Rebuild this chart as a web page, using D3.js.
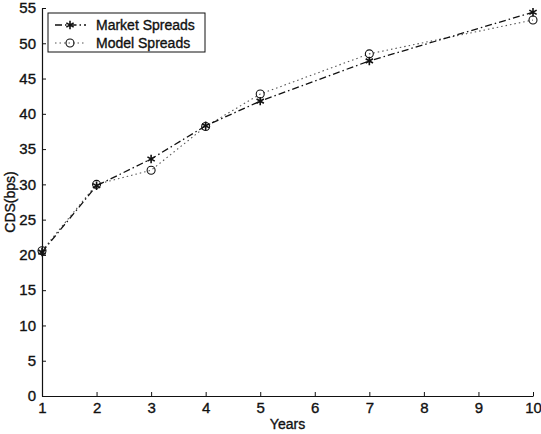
<!DOCTYPE html>
<html>
<head>
<meta charset="utf-8">
<script src="https://cdn.jsdelivr.net/npm/d3@7"></script>
<style>
  body { margin: 0; background: #fff; }
  svg { display: block; font-family: "Liberation Sans", Arial, sans-serif; }
  svg text { stroke: #111; stroke-width: 0.35px; }
</style>
</head>
<body>
<svg id="chart" width="541" height="434"></svg>
<script>
// Maturities (years) and CDS spreads in basis points
const years = [1, 2, 3, 4, 5, 7, 10];
const marketSpreads = [20.4, 29.8, 33.6, 38.3, 41.8, 47.5, 54.4];
const modelSpreads = [20.6, 30.0, 32.0, 38.2, 42.8, 48.5, 53.3];
const xTicks = [1, 2, 3, 4, 5, 6, 7, 8, 9, 10];
const yTicks = [0, 5, 10, 15, 20, 25, 30, 35, 40, 45, 50, 55];
const seriesNames = ["Market Spreads", "Model Spreads"];

const svg = d3.select("#chart");
const plotL = 42, plotR = 533, plotT = 8, plotB = 396;

const x = d3.scaleLinear().domain([1, 10]).range([plotL, plotR]);
const y = d3.scaleLinear().domain([0, 55]).range([plotB, plotT]);

// Axes: ticks point inward
const xAxis = d3.axisBottom(x).tickValues(xTicks).tickSizeInner(-4).tickSizeOuter(0).tickPadding(8);
const yAxis = d3.axisLeft(y).tickValues(yTicks).tickSizeInner(-4).tickSizeOuter(0).tickPadding(6);

const gx = svg.append("g").attr("transform", `translate(0,${plotB})`).call(xAxis);
const gy = svg.append("g").attr("transform", `translate(${plotL},0)`).call(yAxis);
[gx, gy].forEach(g => {
  g.selectAll("path").attr("stroke", "#111").attr("stroke-width", 1.2);
  g.selectAll("line").attr("stroke", "#111").attr("stroke-width", 1);
  g.selectAll("text").attr("fill", "#111").style("font-size", "15px").style("font-family", "Liberation Sans, Arial, sans-serif");
});
gx.selectAll("text").attr("dy", "0.6em");

// Axis titles
svg.append("text").attr("x", (plotL + plotR) / 2).attr("y", 429)
  .attr("text-anchor", "middle").style("font-size", "14px").attr("fill", "#111").text("Years");
svg.append("text").attr("transform", `translate(15,${(plotT + plotB) / 2}) rotate(-90)`)
  .attr("text-anchor", "middle").style("font-size", "14px").attr("fill", "#111").text("CDS(bps)");

const line = d3.line().x(d => x(d[0])).y(d => y(d[1]));
const marketPts = years.map((t, i) => [t, marketSpreads[i]]);
const modelPts = years.map((t, i) => [t, modelSpreads[i]]);

// Model spreads: dotted line with open circles
svg.append("path").datum(modelPts).attr("d", line)
  .attr("fill", "none").attr("stroke", "#555").attr("stroke-width", 1.1).attr("stroke-dasharray", "1.5,3");
// Market spreads: dash-dot line with stars
svg.append("path").datum(marketPts).attr("d", line)
  .attr("fill", "none").attr("stroke", "#111").attr("stroke-width", 1.3).attr("stroke-dasharray", "7,3,1.5,3");

const star = d3.symbol().type(d3.symbolAsterisk).size(50);
function drawStar(g, cx, cy) {
  g.append("path").attr("d", star()).attr("transform", `translate(${cx},${cy})`)
    .attr("fill", "none").attr("stroke", "#111").attr("stroke-width", 1.6);
}
function drawCircle(g, cx, cy) {
  g.append("circle").attr("cx", cx).attr("cy", cy).attr("r", 4)
    .attr("fill", "none").attr("stroke", "#111").attr("stroke-width", 1.1);
}
const marks = svg.append("g");
modelPts.forEach(d => drawCircle(marks, x(d[0]), y(d[1])));
marketPts.forEach(d => drawStar(marks, x(d[0]), y(d[1])));

// Legend
const lg = svg.append("g");
lg.append("rect").attr("x", 48).attr("y", 13).attr("width", 157).attr("height", 39)
  .attr("fill", "#fff").attr("stroke", "#111").attr("stroke-width", 1);
const rows = [25, 43];
lg.append("line").attr("x1", 55).attr("x2", 86).attr("y1", rows[0]).attr("y2", rows[0])
  .attr("stroke", "#111").attr("stroke-width", 1.3).attr("stroke-dasharray", "7,3,1.5,3");
drawStar(lg, 70, rows[0]);
lg.append("line").attr("x1", 55).attr("x2", 86).attr("y1", rows[1]).attr("y2", rows[1])
  .attr("stroke", "#555").attr("stroke-width", 1.1).attr("stroke-dasharray", "1.5,3");
drawCircle(lg, 70, rows[1]);
seriesNames.forEach((n, i) => {
  lg.append("text").attr("x", 96).attr("y", rows[i]).attr("dy", "0.36em")
    .style("font-size", "14px").attr("fill", "#111").text(n);
});
</script>
</body>
</html>
